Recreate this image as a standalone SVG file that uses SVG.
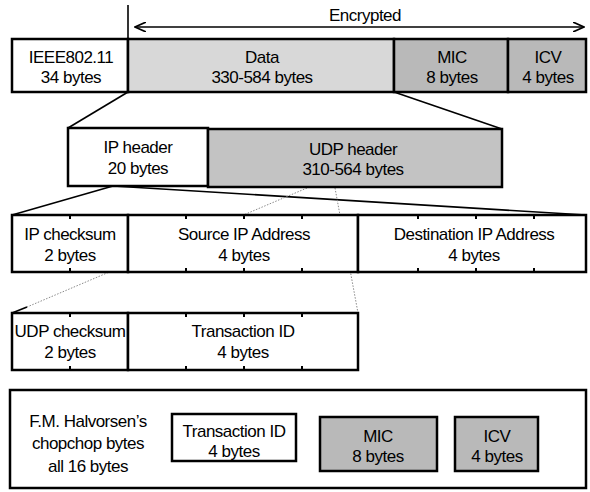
<svg xmlns="http://www.w3.org/2000/svg" width="590" height="492" viewBox="0 0 590 492">
<defs>
<marker id="ah" viewBox="0 0 12 10" refX="11" refY="5" markerWidth="12" markerHeight="10" markerUnits="userSpaceOnUse" orient="auto-start-reverse">
<path d="M0,0 L11,5 L0,10" fill="none" stroke="#000" stroke-width="1.6"/>
</marker>
</defs>
<style>
text{font-family:"Liberation Sans",Arial,sans-serif;font-size:17px;letter-spacing:-0.5px;fill:#000;text-anchor:middle}
.box{stroke:#000;stroke-width:2.5;fill:#fff}
.lt{fill:#d8d8d8}
.dk{fill:#b9b9b9}
.md{fill:#c3c3c3}
.tick{stroke:#000;stroke-width:2}
.ln{stroke:#000;stroke-width:1.6;fill:none}
.dot{stroke:#8a8a8a;stroke-width:1;stroke-dasharray:1.5 1.5;fill:none}
</style>
<g id="connectors">
<line x1="128" y1="5" x2="128" y2="39" class="ln" stroke-width="1"/>
<line x1="135" y1="27" x2="584" y2="27" class="ln" marker-start="url(#ah)" marker-end="url(#ah)"/>
<line x1="128" y1="92" x2="68" y2="128" class="ln"/>
<line x1="394" y1="92" x2="502" y2="129" class="ln"/>
<line x1="113" y1="186" x2="12" y2="215" class="ln"/>
<line x1="113" y1="186" x2="586" y2="215" class="ln"/>
<line x1="307" y1="188" x2="27" y2="307" class="dot"/>
<line x1="27" y1="307" x2="12" y2="313" class="ln"/>
<line x1="335" y1="188" x2="358" y2="313" class="dot"/>
</g>
<g id="label-encrypted"><text x="365" y="21">Encrypted</text></g>
<g id="ieee">
<rect x="12" y="39" width="116" height="53" class="box"/>
<text x="71" y="63">IEEE802.11</text><text x="71" y="83">34 bytes</text>
</g>
<g id="data">
<rect x="128" y="39" width="266" height="53" class="box lt"/>
<text x="262" y="63">Data</text><text x="262" y="83">330-584 bytes</text>
</g>
<g id="mic">
<rect x="394" y="39" width="114" height="53" class="box dk"/>
<text x="452" y="63">MIC</text><text x="452" y="83">8 bytes</text>
</g>
<g id="icv">
<rect x="508" y="39" width="78" height="53" class="box dk"/>
<text x="548" y="63">ICV</text><text x="548" y="83">4 bytes</text>
</g>
<g id="ip-header">
<rect x="68" y="128" width="140" height="58" class="box"/>
<text x="138" y="153">IP header</text><text x="138" y="174">20 bytes</text>
</g>
<g id="udp-header">
<rect x="208" y="129" width="294" height="58" class="box md"/>
<text x="353" y="155">UDP header</text><text x="353" y="175">310-564 bytes</text>
</g>
<g id="ip-checksum">
<rect x="12" y="215" width="116" height="57" class="box"/>
<text x="70" y="240">IP checksum</text><text x="70" y="261">2 bytes</text>
</g>
<g id="source-ip">
<rect x="128" y="215" width="230" height="57" class="box"/>
<text x="244" y="240">Source IP Address</text><text x="244" y="261">4 bytes</text>
</g>
<g id="dest-ip">
<rect x="358" y="215" width="228" height="57" class="box"/>
<text x="474" y="240">Destination IP Address</text><text x="474" y="261">4 bytes</text>
</g>
<g id="ticks-row3" class="tick">
<path d="M70,215v4M186,215v4M244,215v4M302,215v4M418,215v4M476,215v4M534,215v4M70,272v-4M186,272v-4M244,272v-4M302,272v-4M418,272v-4M476,272v-4M534,272v-4"/>
</g>
<g id="udp-checksum">
<rect x="12" y="313" width="116" height="57" class="box"/>
<text x="70" y="337">UDP checksum</text><text x="70" y="358">2 bytes</text>
</g>
<g id="transaction-id">
<rect x="128" y="313" width="230" height="57" class="box"/>
<text x="243" y="337">Transaction ID</text><text x="243" y="358">4 bytes</text>
</g>
<g id="ticks-row4" class="tick">
<path d="M70,313v4M186,313v4M244,313v4M302,313v4M70,370v-4M186,370v-4M244,370v-4M302,370v-4"/>
</g>
<g id="chopchop">
<rect x="10" y="390" width="576" height="98" class="box" stroke-width="2"/>
<text x="88" y="427">F.M. Halvorsen’s</text>
<text x="88" y="449">chopchop bytes</text>
<text x="88" y="472">all 16 bytes</text>
</g>
<g id="chop-tid">
<rect x="172" y="414" width="124" height="47" class="box"/>
<text x="234" y="437">Transaction ID</text><text x="234" y="457">4 bytes</text>
</g>
<g id="chop-mic">
<rect x="320" y="417" width="117" height="54" class="box dk"/>
<text x="378" y="442">MIC</text><text x="378" y="462">8 bytes</text>
</g>
<g id="chop-icv">
<rect x="455" y="417" width="83" height="54" class="box dk"/>
<text x="497" y="442">ICV</text><text x="497" y="462">4 bytes</text>
</g>
</svg>
